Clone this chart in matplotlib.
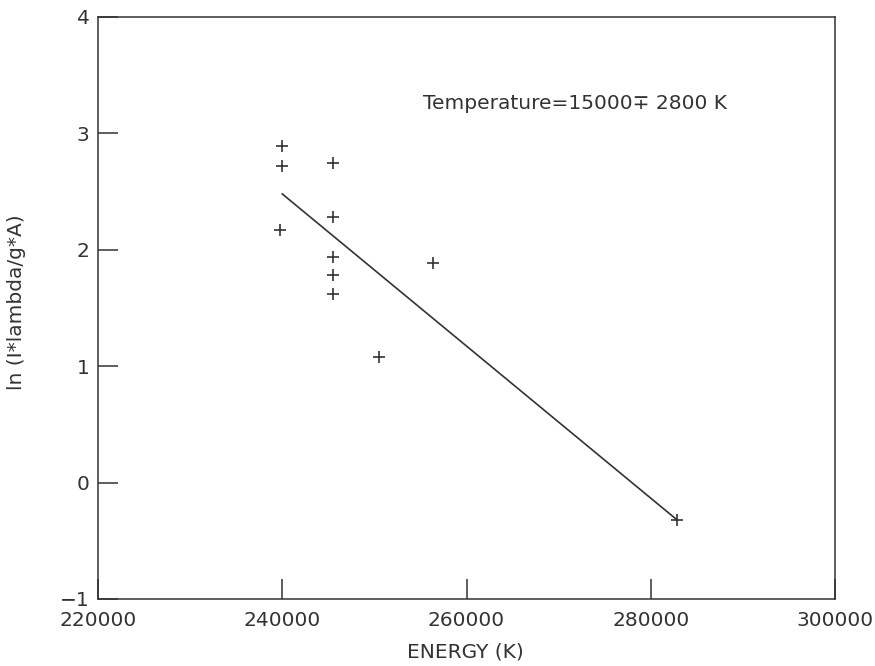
import matplotlib
matplotlib.use("Agg")
import matplotlib.pyplot as plt

energy = [240000, 240000, 239800, 245500, 245500, 245500, 245500, 245500, 250500, 256400, 282850]
lnval = [2.89, 2.72, 2.17, 2.75, 2.28, 1.94, 1.78, 1.62, 1.08, 1.89, -0.32]
fit_x = [240000, 282850]
fit_y = [2.48, -0.32]

xticks = [220000, 240000, 260000, 280000, 300000]
yticks = [-1, 0, 1, 2, 3, 4]

plt.rcParams['font.family'] = ['DejaVu Sans']
FS = 14.5
fig = plt.figure(figsize=(8.75, 6.66), dpi=100)
ax = fig.add_axes([98/875, 1-599/666, (835-98)/875, (599-17)/666])

ax.plot(energy, lnval, linestyle='none', marker='+', markersize=9, markeredgewidth=1.2, color='#333333')
ax.plot(fit_x, fit_y, color='#333333', linewidth=1.2)

ax.set_xlim(220000, 300000)
ax.set_ylim(-1, 4)
ax.set_xticks(xticks)
ax.set_yticks(yticks)
ax.set_xticklabels([str(v) for v in xticks])
ax.set_yticklabels([str(v).replace('-', '\u2212') for v in yticks])
ax.tick_params(direction='in', length=14.5, width=1.1, labelsize=FS, colors='#333333',
               top=False, right=False)
ax.tick_params(axis='x', pad=9)
ax.tick_params(axis='y', pad=6)
for s in ax.spines.values():
    s.set_linewidth(1.1)
    s.set_color('#333333')

ax.set_xlabel('ENERGY (K)', fontsize=FS, color='#333333')
ax.xaxis.set_label_coords(0.498, -0.075)
ax.set_ylabel('ln (I*lambda/g*A)', fontsize=FS, color='#333333')
ax.yaxis.set_label_coords(-0.098, 0.51)

ax.text(0.441, 0.852, 'Temperature=15000\u2213 2800 K', transform=ax.transAxes,
        fontsize=FS, color='#333333', ha='left', va='center')

fig.savefig('out.png', dpi=100)
